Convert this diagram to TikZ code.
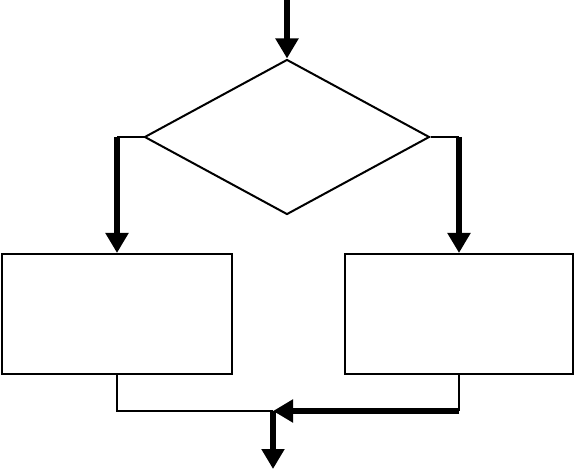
\documentclass[tikz,border=0pt]{standalone}
\usetikzlibrary{arrows.meta,shapes.geometric,calc}

\begin{document}
\begin{tikzpicture}[
  x=1pt,y=-1pt,
  decision/.style={diamond,draw,line width=2pt,inner sep=0pt,minimum width=285pt,minimum height=155pt,aspect=1.84},
  box/.style={rectangle,draw,line width=2pt,inner sep=0pt,minimum height=120pt},
  thinline/.style={line width=2pt},
  flow/.style={-{Triangle[length=20pt,width=22pt]},line width=6pt}]
\useasboundingbox (0,0) rectangle (575,470);
\node[decision] (cond) at (287,137) {};
\node[box,minimum width=230pt] (yes) at (117,314) {};
\node[box,minimum width=228pt] (no) at (459,314) {};
\coordinate (start) at (287,0);
\coordinate (join) at (273,411);
\coordinate (exit) at (273,469);
\draw[flow] (start)--(cond.north);
\draw[thinline] (cond.west)--(cond.west -| yes.north);
\draw[flow] (cond.west -| yes.north)--(yes.north);
\draw[thinline] (cond.east)--(cond.east -| no.north);
\draw[flow] (cond.east -| no.north)--(no.north);
\draw[thinline] (yes.south) |- (join);
\draw[thinline] (no.south)--(no.south |- join);
\draw[flow] (no.south |- join)--(join);
\draw[flow] (join)--(exit);
\end{tikzpicture}
\end{document}
